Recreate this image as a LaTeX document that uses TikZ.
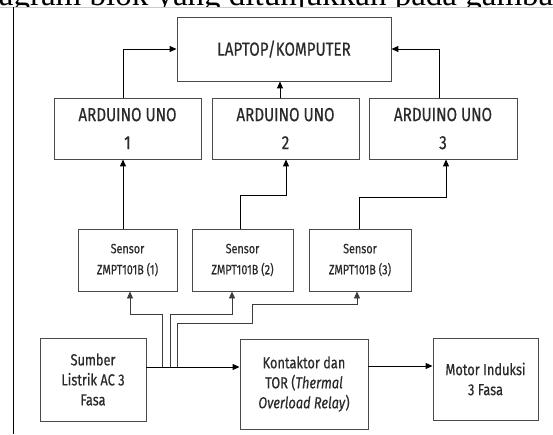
\documentclass[tikz,border=0pt]{standalone}
\usepackage{fontspec}
\setmainfont{Fira Sans}[FakeStretch=0.8, FakeBold=0.4, Numbers=Proportional]
\newfontfamily\docfont{Liberation Serif}
\usetikzlibrary{arrows.meta}
\definecolor{boxgray}{HTML}{4A4A4A}
\definecolor{textcol}{HTML}{2A2A2A}
\definecolor{feedgray}{HTML}{3C3C3C}
\begin{document}
\begin{tikzpicture}[x=1pt,y=-1pt,
  blk/.style={draw=boxgray, line width=0.9pt, fill=white, inner sep=0pt, align=center, text=textcol},
  big/.style={blk, font=\fontsize{19}{28}\selectfont},
  sens/.style={blk, font=\fontsize{13.5}{21}\selectfont, minimum height=62pt},
  low/.style={blk, font=\fontsize{16}{20}\selectfont},
  arr/.style={draw=black, line width=1pt, -{Triangle[length=7pt,width=6pt]}},
  feed/.style={draw=feedgray, line width=0.9pt, -{Triangle[length=7pt,width=6pt]}}
]
\useasboundingbox (0,0) rectangle (553,434);
\fill[white] (0,0) rectangle (553,434);
% cropped document text at top
\begin{scope}
  \clip (0,0) rectangle (553,7);
  \node[anchor=base west, inner sep=0pt, font=\docfont\fontsize{33}{36}\selectfont] (doc) at (-27,5) {diagram blok yang ditunjukkan pada gambar};
\end{scope}
\draw[black!20, line width=0.8pt] (0,7) -- (553,7);
\draw[black, line width=1pt] (13.5,7) -- (13.5,434);

% boxes
\node[big, minimum width=214pt, minimum height=64pt] (lap) at (284,49) {LAPTOP/KOMPUTER};
\node[big, minimum width=147pt, minimum height=61pt] (a1) at (127.5,128.5) {ARDUINO UNO\\1};
\node[big, minimum width=147pt, minimum height=61pt] (a2) at (285.5,128.5) {ARDUINO UNO\\2};
\node[big, minimum width=148pt, minimum height=61pt] (a3) at (443,128.5) {ARDUINO UNO\\3};
\node[sens, minimum width=99pt] (s1) at (127.5,260) {Sensor\\ZMPT101B (1)};
\node[sens, minimum width=101pt] (s2) at (242.5,260) {Sensor\\ZMPT101B (2)};
\node[sens, minimum width=102pt] (s3) at (360,260) {Sensor\\ZMPT101B (3)};
\node[low, minimum width=106pt, minimum height=83pt] (src) at (93,379.5) {Sumber\\Listrik AC 3\\Fasa};
\node[low, minimum width=128pt, minimum height=90pt] (kon) at (304,384) {Kontaktor dan\\TOR (\textit{Thermal}\\\textit{Overload Relay})};
\node[low, minimum width=105pt, minimum height=82pt] (mot) at (485.5,379) {Motor Induksi\\3 Fasa};

% arduino -> laptop
\draw[arr] ([xshift=-4.5pt]a1.north) |- (lap.west);
\draw[arr] ([xshift=-5.5pt]a2.north) -- ([xshift=-5.5pt]a2.north |- lap.south);
\draw[arr] ([xshift=-4pt]a3.north) |- (lap.east);

% sensor -> arduino
\draw[arr] ([xshift=-4.5pt]s1.north) -- ([xshift=-4.5pt]a1.south);
\draw[arr] ([xshift=-2.5pt]s2.north) -- ++(0,-33) -| ([xshift=0.5pt]a2.south);
\draw[arr] ([xshift=-1pt]s3.north) -- ++(0,-31) -| ([xshift=3pt]a3.south);

% power line
\coordinate (t0) at ([yshift=12.5pt]src.east);
\coordinate (k0) at ([yshift=18pt]kon.east);
\draw[arr] (t0) -- (t0 -| kon.west);
\draw[arr] (k0) -- (k0 -| mot.west);

% feeds to sensors
\coordinate (j1) at (162,367);
\coordinate (j2) at (170,367);
\coordinate (j3) at (177,367);
\draw[feed] (j1) -- ++(0,-53) -| ([xshift=2.5pt]s1.south);
\draw[feed] (j2) -- ++(0,-53) -| ([xshift=-10.5pt]s2.south);
\draw[feed] (j3) -- ++(0,-44) -- ++(75,0) -- ++(0,-19) -| ([xshift=-3pt]s3.south);
\end{tikzpicture}
\end{document}
